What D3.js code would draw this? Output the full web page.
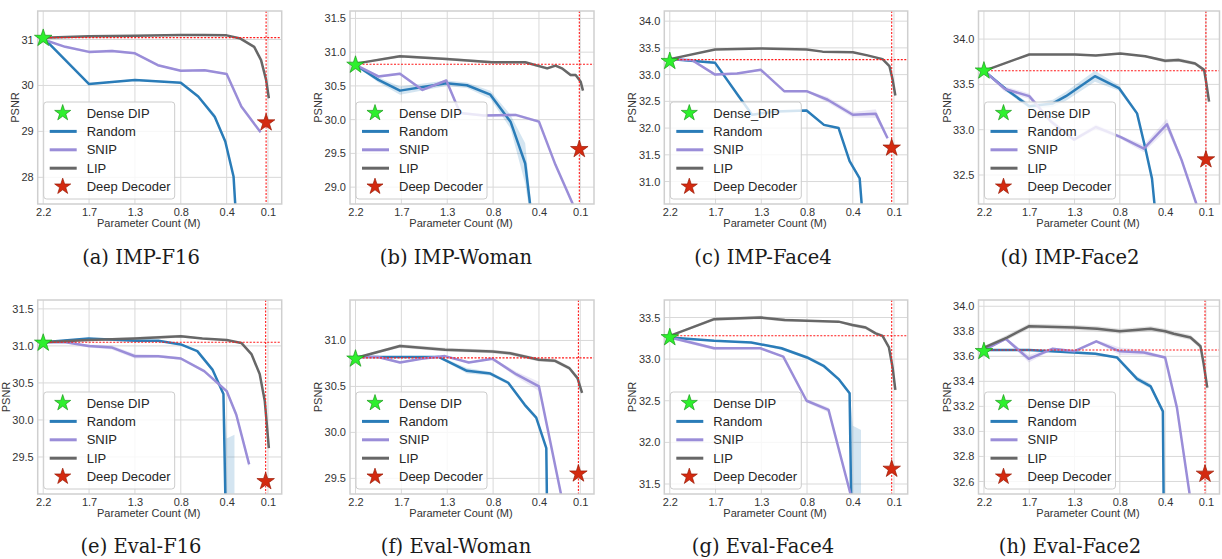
<!DOCTYPE html>
<html>
<head>
<meta charset="utf-8">
<script src="https://cdn.jsdelivr.net/npm/d3@7"></script>
<style>
  body { margin: 0; background: #fff; }
  svg { display: block; }
</style>
</head>
<body>
<svg id="chart"></svg>
<script>
// x positions are in tick units (0 = 2.2M ... 4.9 = 0.1M)
const xTickPos = [0, 1, 2, 3, 4, 4.9];
const xTickLabels = ["2.2", "1.7", "1.3", "0.8", "0.4", "0.1"];
const captions = ["(a) IMP-F16", "(b) IMP-Woman", "(c) IMP-Face4", "(d) IMP-Face2",
                  "(e) Eval-F16", "(f) Eval-Woman", "(g) Eval-Face4", "(h) Eval-Face2"];
const denseLabels = ["Dense DIP", "Dense DIP", "Dense_DIP", "Dense DIP",
                     "Dense DIP", "Dense DIP", "Dense DIP", "Dense DIP"];

// [x, psnr, ci half-width]
const aRandom = [[0,31.04,.01],[1,30.03,.02],[2,30.12,.02],[3,30.06,.02],[3.38,29.76,.03],[3.74,29.32,.06],[3.97,28.78,.04],[4.15,28.02,.05],[4.2,27.2,.08]];
const aSnip = [[0,31.0,.01],[0.48,30.84,.02],[1,30.73,.03],[1.5,30.75,.03],[2,30.7,.02],[2.5,30.44,.02],[3,30.32,.02],[3.52,30.33,.02],[4,30.25,.02],[4.32,29.54,.02],[4.74,28.98,.02]];
const aLip = [[0,31.04,.01],[1,31.07,.01],[2,31.08,.01],[3,31.1,.01],[3.5,31.1,.01],[4,31.09,.01],[4.3,31.02,.02],[4.6,30.84,.02],[4.75,30.55,.02],[4.86,30.12,.02],[4.92,29.72,.02]];

const bRandom = [[0,30.81,.01],[0.5,30.59,.04],[0.97,30.43,.06],[1.98,30.54,.04],[2.43,30.51,.04],[2.94,30.37,.06],[3.38,29.97,.1],[3.7,29.35,.3],[3.85,28.5,.1]];
const bSnip = [[0,30.81,.01],[0.5,30.64,.02],[0.97,30.68,.02],[1.46,30.44,.02],[1.98,30.58,.02],[2.28,30.1,.02],[2.8,30.06,.02],[3.49,30.07,.02],[4,29.97,.02],[4.36,29.33,.02],[4.73,28.76,.03],[4.8,28.6,.03]];
const bLip = [[0,30.83,.01],[0.97,30.94,.02],[1.98,30.9,.02],[2.98,30.85,.02],[3.7,30.85,.02],[4.18,30.76,.02],[4.36,30.8,.02],[4.5,30.76,.02],[4.69,30.66,.02],[4.8,30.66,.02],[4.91,30.56,.02],[4.96,30.43,.02]];

const cRandom = [[0,33.29,.01],[0.99,33.22,.02],[1.51,32.59,.02],[1.8,32.25,.02],[2.31,32.31,.03],[2.99,32.33,.02],[3.37,32.06,.02],[3.69,32.0,.02],[3.93,31.38,.02],[4.15,31.06,.02],[4.22,30.3,.02]];
const cSnip = [[0,33.29,.01],[0.49,33.27,.02],[0.99,33.0,.02],[1.47,33.02,.02],[1.99,33.09,.02],[2.5,32.69,.02],[2.99,32.69,.02],[3.45,32.53,.05],[4,32.25,.05],[4.5,32.27,.08],[4.76,31.81,.03]];
const cLip = [[0,33.29,.01],[0.99,33.47,.01],[1.99,33.49,.01],[2.99,33.47,.01],[3.34,33.43,.01],[4,33.42,.01],[4.32,33.36,.01],[4.65,33.29,.02],[4.8,33.16,.02],[4.87,32.91,.02],[4.93,32.61,.02]];

const dRandom = [[0,33.65,.01],[0.5,33.44,.02],[1,33.26,.03],[1.52,33.29,.04],[1.81,33.37,.05],[2.45,33.59,.06],[2.98,33.46,.03],[3.38,33.18,.02],[3.56,32.8,.02],[3.71,32.46,.02],[3.8,32.0,.02]];
const dSnip = [[0,33.65,.01],[0.46,33.45,.03],[1,33.37,.03],[1.48,33.09,.03],[1.99,32.89,.02],[2.47,33.03,.03],[3.01,32.92,.02],[3.53,32.79,.04],[4.04,33.06,.06],[4.36,32.67,.03],[4.69,32.18,.03],[4.75,32.05,.03]];
const dLip = [[0,33.65,.01],[1,33.83,.01],[2.01,33.83,.01],[2.47,33.82,.01],[3.01,33.84,.01],[3.56,33.81,.01],[4,33.76,.02],[4.29,33.77,.02],[4.66,33.73,.02],[4.86,33.66,.02],[4.91,33.51,.02],[4.97,33.31,.03]];

const eRandom = [[0,31.05,.01],[0.99,31.1,.01],[2,31.07,.01],[2.51,31.07,.01],[3,31.02,.01],[3.36,30.93,.01],[3.69,30.68,.02],[3.93,30.35,.02],[4.0,28.0,1.75],[4.17,27.0,2.8]];
const eSnip = [[0,31.05,.01],[0.49,31.05,.01],[0.99,31.0,.02],[1.49,30.98,.03],[2,30.86,.03],[2.51,30.86,.02],[3,30.83,.02],[3.51,30.66,.02],[4,30.39,.02],[4.21,30.07,.04],[4.49,29.4,.05]];
const eLip = [[0,31.05,.01],[0.99,31.08,.01],[2,31.1,.02],[3,31.13,.02],[3.47,31.1,.01],[4,31.08,.01],[4.32,31.04,.01],[4.54,30.89,.02],[4.72,30.62,.02],[4.83,30.26,.02],[4.87,29.98,.02],[4.92,29.62,.02]];

const fRandom = [[0,30.82,.01],[0.97,30.82,.01],[1.82,30.82,.01],[2.43,30.67,.03],[2.94,30.64,.02],[3.33,30.54,.02],[3.69,30.3,.02],[3.94,30.16,.02],[4.16,29.83,.02],[4.18,29.0,.02]];
const fSnip = [[0,30.82,.01],[0.49,30.82,.01],[0.97,30.76,.01],[1.44,30.8,.01],[1.95,30.83,.01],[2.47,30.76,.01],[2.99,30.8,.01],[3.51,30.63,.03],[4,30.5,.05],[4.23,29.94,.02],[4.48,29.33,.02],[4.55,29.15,.02]];
const fLip = [[0,30.81,.01],[0.97,30.94,.02],[1.95,30.9,.02],[2.99,30.88,.02],[3.37,30.86,.02],[4,30.79,.02],[4.34,30.78,.02],[4.66,30.7,.02],[4.84,30.59,.02],[4.94,30.43,.02]];

const gRandom = [[0,33.26,.01],[0.97,33.22,.01],[1.78,33.2,.01],[2.44,33.13,.02],[3,33.02,.02],[3.36,32.92,.02],[3.69,32.76,.02],[3.93,32.59,.02],[4.0,30.0,2.2],[4.18,29.0,3.15]];
const gSnip = [[0,33.26,.01],[0.46,33.2,.02],[0.97,33.13,.02],[1.98,33.13,.01],[2.48,33.03,.01],[2.99,32.5,.02],[3.47,32.39,.03],[3.95,31.38,.02],[4.0,31.2,.02]];
const gLip = [[0,33.28,.01],[0.97,33.48,.02],[1.98,33.5,.02],[2.51,33.47,.02],[3,33.46,.01],[3.69,33.45,.01],[3.99,33.41,.02],[4.28,33.38,.02],[4.5,33.31,.02],[4.65,33.28,.02],[4.79,33.14,.02],[4.87,32.9,.02],[4.93,32.63,.02]];

const hRandom = [[0,33.65,.005],[0.99,33.65,.005],[1.99,33.63,.01],[2.46,33.62,.01],[2.94,33.59,.01],[3.38,33.42,.02],[3.68,33.36,.02],[3.95,33.16,.01],[3.97,32.3,.01]];
const hSnip = [[0,33.65,.005],[0.48,33.74,.01],[0.99,33.58,.03],[1.51,33.66,.01],[1.99,33.64,.01],[2.48,33.72,.01],[3,33.64,.03],[3.53,33.63,.02],[4,33.59,.01],[4.26,33.19,.01],[4.54,32.5,.01],[4.6,32.35,.01]];
const hLip = [[0,33.67,.01],[0.51,33.75,.02],[0.99,33.84,.02],[1.99,33.83,.02],[2.5,33.82,.02],[3,33.8,.02],[3.68,33.82,.02],[4,33.8,.02],[4.19,33.78,.02],[4.56,33.75,.02],[4.78,33.68,.02],[4.85,33.54,.02],[4.93,33.35,.02]];

// Dense DIP psnr, reference line level, Deep Decoder [x, psnr]
const densePsnr = [31.03, 30.81, 33.25, 33.65, 31.04, 30.80, 33.26, 33.64];
const denseRef = [31.04, 30.82, 33.28, 33.65, 31.05, 30.81, 33.28, 33.65];
const deepDecoder = [[4.86,29.19],[4.88,29.56],[4.85,31.63],[4.9,32.67],[4.85,29.17],[4.86,29.55],[4.85,31.68],[4.88,32.66]];

const yTicks = [
  [28, 29, 30, 31],
  [29.0, 29.5, 30.0, 30.5, 31.0, 31.5],
  [31.0, 31.5, 32.0, 32.5, 33.0, 33.5, 34.0],
  [32.5, 33.0, 33.5, 34.0],
  [29.5, 30.0, 30.5, 31.0, 31.5],
  [29.5, 30.0, 30.5, 31.0],
  [31.5, 32.0, 32.5, 33.0, 33.5],
  [32.6, 32.8, 33.0, 33.2, 33.4, 33.6, 33.8, 34.0]
];
const yLimits = [[27.42,31.62],[28.75,31.61],[30.58,34.19],[32.18,34.31],[29.0,31.62],[29.33,31.44],[31.38,33.71],[32.5,34.05]];
const yFormats = ["d", ".1f", ".1f", ".1f", ".1f", ".1f", ".1f", ".1f"];

const randomSeries = [aRandom, bRandom, cRandom, dRandom, eRandom, fRandom, gRandom, hRandom];
const snipSeries = [aSnip, bSnip, cSnip, dSnip, eSnip, fSnip, gSnip, hSnip];
const lipSeries = [aLip, bLip, cLip, dLip, eLip, fLip, gLip, hLip];

const width = 1222, height = 559;
const colLeft = [37.7, 350, 664.3, 978.5];
const colWidth = [244, 244, 243.4, 241];
const rowTop = [11, 300];
const rowHeight = [193, 194];
const captionX = [141, 456, 763, 1070];
const captionY = [264, 553];

const colors = { random: "#2a7cb8", snip: "#9a8dd8", lip: "#676767", dense: "#2df02d", deep: "#d42a10" };
const font = "'Liberation Sans', Arial, sans-serif";

const svg = d3.select("#chart").attr("width", width).attr("height", height);

const panels = captions.map((c, i) => ({
  caption: c,
  denseLabel: denseLabels[i],
  series: [
    { key: "random", data: randomSeries[i] },
    { key: "snip", data: snipSeries[i] },
    { key: "lip", data: lipSeries[i] }
  ],
  dense: densePsnr[i],
  ref: denseRef[i],
  deep: deepDecoder[i],
  yTicks: yTicks[i],
  yDomain: yLimits[i],
  yFmt: yFormats[i],
  col: i % 4,
  row: Math.floor(i / 4)
}));

panels.forEach((p, i) => {
  const left = colLeft[p.col], w = colWidth[p.col];
  const top = rowTop[p.row], h = rowHeight[p.row];

  const x = d3.scaleLinear().domain([-0.12, 5.2]).range([left, left + w]);
  const y = d3.scaleLinear().domain(p.yDomain).range([top + h, top]);

  const g = svg.append("g");

  g.append("clipPath").attr("id", "clip" + i)
    .append("rect").attr("x", left).attr("y", top).attr("width", w).attr("height", h);

  // grid
  g.append("g").selectAll("line").data(xTickPos).join("line")
    .attr("x1", d => x(d)).attr("x2", d => x(d))
    .attr("y1", top).attr("y2", top + h)
    .attr("stroke", "#d9d9d9").attr("stroke-width", 1);
  g.append("g").selectAll("line").data(p.yTicks).join("line")
    .attr("x1", left).attr("x2", left + w)
    .attr("y1", d => y(d)).attr("y2", d => y(d))
    .attr("stroke", "#d9d9d9").attr("stroke-width", 1);

  // axes tick labels
  const yAxis = g.append("g").attr("transform", `translate(${left},0)`)
    .call(d3.axisLeft(y).tickValues(p.yTicks).tickFormat(d3.format(p.yFmt)).tickSize(0).tickPadding(4));
  yAxis.select(".domain").remove();
  yAxis.selectAll("text").attr("font-family", font).attr("font-size", 11).attr("fill", "#333");

  const xAxis = g.append("g").attr("transform", `translate(0,${top + h})`)
    .call(d3.axisBottom(x).tickValues(xTickPos).tickFormat((d, k) => xTickLabels[k]).tickSize(0).tickPadding(4));
  xAxis.select(".domain").remove();
  xAxis.selectAll("text").attr("font-family", font).attr("font-size", 11).attr("fill", "#333");

  g.append("text")
    .attr("x", left + w / 2 - 11).attr("y", top + h + 23)
    .attr("text-anchor", "middle")
    .attr("font-family", font).attr("font-size", 11).attr("fill", "#333")
    .text("Parameter Count (M)");

  const yb = yAxis.node().getBBox();
  const cy = top + h / 2;
  g.append("text")
    .attr("transform", `translate(${left + yb.x - 2.5},${cy}) rotate(-90)`)
    .attr("text-anchor", "middle")
    .attr("font-family", font).attr("font-size", 11).attr("fill", "#333")
    .text("PSNR");

  // series
  const plot = g.append("g").attr("clip-path", `url(#clip${i})`);
  const area = d3.area().x(d => x(d[0])).y0(d => y(d[1] - d[2])).y1(d => y(d[1] + d[2]));
  const line = d3.line().x(d => x(d[0])).y(d => y(d[1]));

  p.series.forEach(s => {
    plot.append("path").datum(s.data).attr("d", area)
      .attr("fill", colors[s.key]).attr("opacity", 0.2);
  });
  p.series.forEach(s => {
    plot.append("path").datum(s.data).attr("d", line)
      .attr("fill", "none").attr("stroke", colors[s.key])
      .attr("stroke-width", 2.5).attr("stroke-linejoin", "round");
  });

  // reference lines
  plot.append("line")
    .attr("x1", x(0)).attr("x2", left + w)
    .attr("y1", y(p.ref)).attr("y2", y(p.ref))
    .attr("stroke", "#ff1a1a").attr("stroke-width", 1.1).attr("stroke-dasharray", "2,1.5");
  plot.append("line")
    .attr("x1", x(p.deep[0])).attr("x2", x(p.deep[0]))
    .attr("y1", top).attr("y2", top + h)
    .attr("stroke", "#ff1a1a").attr("stroke-width", 1.1).attr("stroke-dasharray", "2,1.5");

  // frame
  g.append("rect").attr("x", left).attr("y", top).attr("width", w).attr("height", h)
    .attr("fill", "none").attr("stroke", "#cfcfcf").attr("stroke-width", 1.5);

  const star = d3.symbol().type(d3.symbolStar).size(95);
  g.append("path").attr("d", star)
    .attr("transform", `translate(${x(0)},${y(p.dense)})`)
    .attr("fill", colors.dense).attr("stroke", "#1a9a1a").attr("stroke-width", 0.7);
  g.append("path").attr("d", star)
    .attr("transform", `translate(${x(p.deep[0])},${y(p.deep[1])})`)
    .attr("fill", colors.deep).attr("stroke", "#9a1a05").attr("stroke-width", 0.7);

  // legend
  const bx = left + 6, bh = 97, by = top + h - 5 - bh, bw = 131;
  const lg = g.append("g");
  lg.append("rect").attr("x", bx).attr("y", by).attr("width", bw).attr("height", bh)
    .attr("rx", 3).attr("fill", "#fff").attr("fill-opacity", 0.8)
    .attr("stroke", "#cccccc").attr("stroke-width", 1);
  const items = [
    { label: p.denseLabel, type: "star", color: colors.dense, edge: "#1a9a1a" },
    { label: "Random", type: "line", color: colors.random },
    { label: "SNIP", type: "line", color: colors.snip },
    { label: "LIP", type: "line", color: colors.lip },
    { label: "Deep Decoder", type: "star", color: colors.deep, edge: "#9a1a05" }
  ];
  items.forEach((it, k) => {
    const iy = by + 11 + k * 18.4;
    if (it.type === "star") {
      lg.append("path").attr("d", d3.symbol().type(d3.symbolStar).size(80))
        .attr("transform", `translate(${bx + 19},${iy})`)
        .attr("fill", it.color).attr("stroke", it.edge).attr("stroke-width", 0.7);
    } else {
      lg.append("line").attr("x1", bx + 6).attr("x2", bx + 33)
        .attr("y1", iy).attr("y2", iy)
        .attr("stroke", it.color).attr("stroke-width", 3);
    }
    lg.append("text").attr("x", bx + 43).attr("y", iy).attr("dy", "0.35em")
      .attr("font-family", font).attr("font-size", 13).attr("fill", "#262626")
      .text(it.label);
  });

  // caption
  svg.append("text")
    .attr("x", captionX[p.col]).attr("y", captionY[p.row])
    .attr("text-anchor", "middle")
    .attr("font-family", "'DejaVu Serif', serif").attr("font-size", 19.5).attr("fill", "#1a1a1a")
    .text(p.caption);
});
</script>
</body>
</html>
